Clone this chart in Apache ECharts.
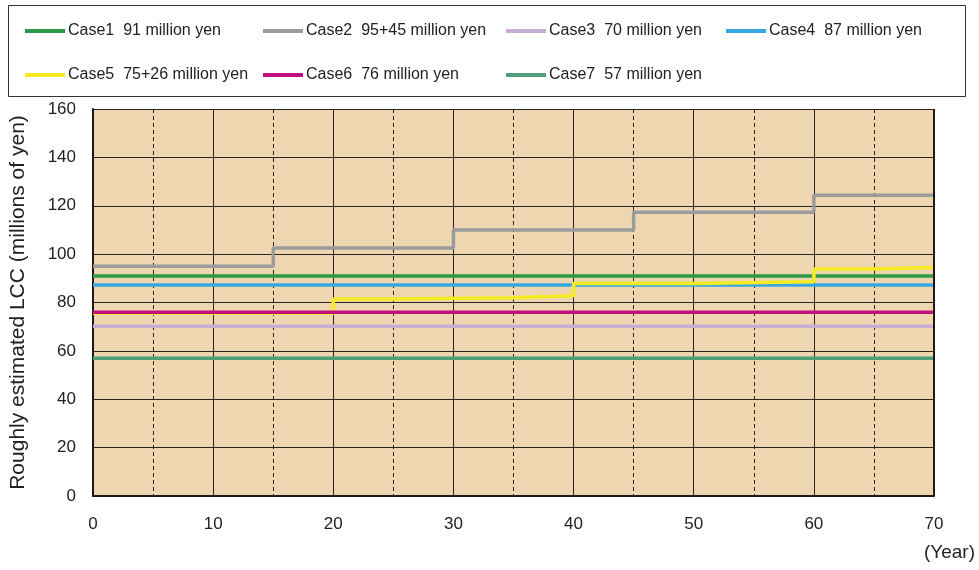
<!DOCTYPE html>
<html><head><meta charset="utf-8">
<script src="https://cdn.jsdelivr.net/npm/echarts@6/dist/echarts.min.js"></script>
<style>html,body{margin:0;padding:0;background:#fff}#c{width:979px;height:570px}</style>
</head><body><div id="c"></div>
<script>
const seriesNames = ['Case1  91 million yen','Case2  95+45 million yen','Case3  70 million yen','Case4  87 million yen','Case5  75+26 million yen','Case6  76 million yen','Case7  57 million yen'];
const seriesColors = ['#2E9A47','#9A9B9D','#C9AED3','#35A9E2','#F6EB22','#C2107F','#4E9F78'];
const case1Years = [0,70]; const case1Values = [91,91];
const case2Years = [0,15,30,45,60,70]; const case2Values = [95,102.5,110,117.3,124.3,124.3];
const case3Years = [0,70]; const case3Values = [70.2,70.2];
const case4Years = [0,70]; const case4Values = [87.2,87.2];
const case5Years = [0,20,25,35,40,50,60,65,70]; const case5Values = [75.6,81.4,82,82.8,87.9,88.6,93.8,94.5,94.5];
const case6Years = [0,70]; const case6Values = [76,76];
const case7Years = [0,70]; const case7Values = [57,57];
const xTicks = [0,10,20,30,40,50,60,70];
const yTicks = [0,20,40,60,80,100,120,140,160];
const xUnit = '(Year)';
const yTitle = 'Roughly estimated LCC (millions of yen)';

const allYears = [case1Years,case2Years,case3Years,case4Years,case5Years,case6Years,case7Years];
const allValues = [case1Values,case2Values,case3Values,case4Values,case5Values,case6Values,case7Values];
const legendPos = [[25,23],[263,23],[506,23],[726,23],[25,67],[263,67],[506,67]];

const chart = echarts.init(document.getElementById('c'));
const font = 'Liberation Sans, Arial, sans-serif';
chart.setOption({
  animation:false,
  textStyle:{fontFamily:font},
  graphic:[
    {type:'rect',shape:{x:8.5,y:5.5,width:957,height:91},style:{fill:'#fff',stroke:'#333',lineWidth:1},z:-1},
    {type:'text',right:4,top:543,style:{text:xUnit,fontSize:19,fill:'#222',fontFamily:font}}
  ],
  legend: seriesNames.map((n,i)=>({
    data:[n], left:legendPos[i][0], top:legendPos[i][1], icon:'rect', itemWidth:40, itemHeight:4, itemGap:5,
    textStyle:{fontSize:16,color:'#222',fontFamily:font,padding:[0,0,0,-2]}, selectedMode:false, padding:0
  })),
  grid:{left:92,right:45,top:109,bottom:74,show:true,backgroundColor:'#EDD6B0',borderWidth:0},
  xAxis:{type:'value',min:0,max:70,interval:10,
    axisLine:{show:true,lineStyle:{color:'#231815',width:2}},axisTick:{show:false},
    axisLabel:{fontSize:17,color:'#222',margin:20,formatter:v=>xTicks.includes(v)?String(v):''},
    splitLine:{show:true,lineStyle:{color:'#2a2220',width:1}},
    minorTick:{show:false,splitNumber:2},
    minorSplitLine:{show:true,lineStyle:{color:'#2a2220',width:1,type:[4,3]}}},
  yAxis:{type:'value',min:0,max:160,interval:20,name:yTitle,nameLocation:'middle',nameGap:64,
    nameTextStyle:{fontSize:21,color:'#222'},
    axisLine:{show:true,lineStyle:{color:'#231815',width:2}},axisTick:{show:false},
    axisLabel:{fontSize:17,color:'#222',margin:17,formatter:v=>yTicks.includes(v)?String(v):''},
    splitLine:{show:true,lineStyle:{color:'#2a2220',width:1}}},
  series: seriesNames.map((n,i)=>({
    name:n,type:'line',step:'end',showSymbol:false,symbol:'none',
    lineStyle:{color:seriesColors[i],width:3.5},itemStyle:{color:seriesColors[i]},
    data: allYears[i].map((y,j)=>[y,allValues[i][j]]), z:2+i
  })).concat([{type:'line',data:[[70,0],[70,160]],symbol:'none',lineStyle:{color:'#231815',width:2},silent:true,z:20}])
});
</script></body></html>
